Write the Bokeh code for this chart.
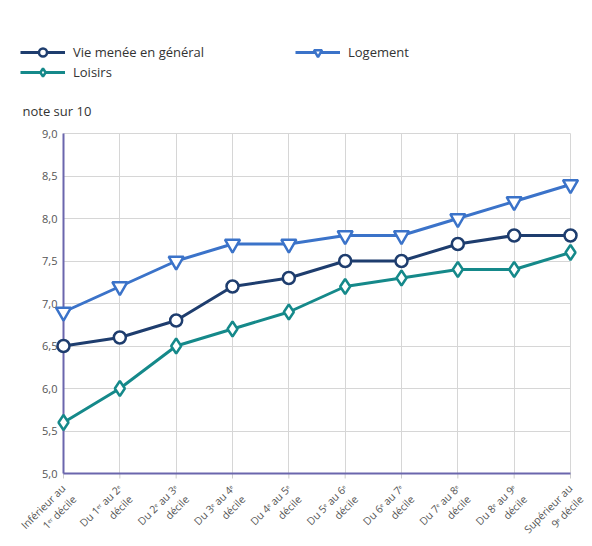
from math import pi
from bokeh.plotting import figure
from bokeh.models import (FixedTicker, Legend, LegendItem, Label, Range1d, Grid)
from bokeh.core.properties import value
from bokeh.embed import file_html
from bokeh.resources import INLINE

categories = ["Inférieur au\n1ᵉʳ décile", "Du 1ᵉʳ au 2ᵉ\ndécile", "Du 2ᵉ au 3ᵉ\ndécile",
              "Du 3ᵉ au 4ᵉ\ndécile", "Du 4ᵉ au 5ᵉ\ndécile", "Du 5ᵉ au 6ᵉ\ndécile",
              "Du 6ᵉ au 7ᵉ\ndécile", "Du 7ᵉ au 8ᵉ\ndécile", "Du 8ᵉ au 9ᵉ\ndécile",
              "Supérieur au\n9ᵉ décile"]
vie = [6.5, 6.6, 6.8, 7.2, 7.3, 7.5, 7.5, 7.7, 7.8, 7.8]
logement = [6.9, 7.2, 7.5, 7.7, 7.7, 7.8, 7.8, 8.0, 8.2, 8.4]
loisirs = [5.6, 6.0, 6.5, 6.7, 6.9, 7.2, 7.3, 7.4, 7.4, 7.6]
y_ticks = [5.0, 5.5, 6.0, 6.5, 7.0, 7.5, 8.0, 8.5, 9.0]
y_tick_labels = ["5,0", "5,5", "6,0", "6,5", "7,0", "7,5", "8,0", "8,5", "9,0"]

FONT = "Open Sans"
W, H = 590, 538
# plot-area box inside the canvas (pixels)
PL, PR, PT, PB = 63, 570, 133, 473

xs = list(range(len(categories)))
X0, X1 = 0, len(categories) - 1
Y0, Y1 = y_ticks[0], y_ticks[-1]
ux = (PR - PL) / (X1 - X0)
uy = (PB - PT) / (Y1 - Y0)

p = figure(width=W, height=H, output_backend="svg", toolbar_location=None,
           x_axis_location=None, y_axis_location=None,
           x_range=Range1d(X0 - PL / ux, X1 + (W - PR) / ux),
           y_range=Range1d(Y0 - (H - PB) / uy, Y1 + PT / uy),
           min_border=0)
p.outline_line_color = None
for g in p.grid:
    g.visible = False

p.add_layout(Grid(dimension=0, ticker=FixedTicker(ticks=xs), cross_bounds=(Y0, Y1),
                  grid_line_color="#d6d6d6"))
p.add_layout(Grid(dimension=1, ticker=FixedTicker(ticks=y_ticks), cross_bounds=(X0, X1),
                  grid_line_color="#d6d6d6"))

# tick marks under the x axis
p.segment(x0=xs, y0=[Y0] * len(xs), x1=xs, y1=[Y0 - 5 / uy] * len(xs),
          line_color="#cccccc", line_width=1)
# axis lines
p.segment(x0=[X0, X0], y0=[Y0, Y0], x1=[X1, X0], y1=[Y0, Y1],
          line_color="#6b66ad", line_width=2)

# y tick labels
p.text(x=[X0] * len(y_ticks), y=y_ticks, text=y_tick_labels, x_offset=-6,
       text_align="right", text_baseline="middle", text_font=value(FONT),
       text_font_size="11px", text_color="#555555")

# rotated category labels
p.text(x=xs, y=[Y0 - 8 / uy] * len(xs), text=categories, angle=pi / 4, x_offset=-5,
       text_align="right", text_baseline="top", text_font=value(FONT),
       text_font_size="10.5px", text_color="#555555", text_line_height=1.1)

series = [
    ("Vie menée en général", vie, "#1e3d6e", "circle", 12),
    ("Logement", logement, "#3b73c9", "inverted_triangle", 15),
    ("Loisirs", loisirs, "#15898a", "diamond", 15),
]
items = []
for name, vals, color, marker, size in series:
    l = p.line(xs, vals, line_color=color, line_width=3)
    m = p.scatter(xs, vals, marker=marker, size=size, line_color=color,
                  fill_color="white", line_width=2.5)
    items.append(LegendItem(label=name, renderers=[l, m]))

legend = Legend(items=items, location=(20, H - 82), ncols=2, orientation="horizontal",
                label_text_font=FONT, label_text_font_size="13px", label_text_color="#333333",
                glyph_width=45, glyph_height=20, label_width=222, label_standoff=8,
                spacing=0, padding=0, margin=0, border_line_color=None,
                background_fill_alpha=0)
p.add_layout(legend)

p.add_layout(Label(x=X0, y=Y1 + 23 / uy, x_offset=-41, text="note sur 10",
                   text_baseline="middle", text_font=FONT, text_font_size="13px",
                   text_color="#333333"))

open("out.html", "w").write(file_html(p, INLINE))
